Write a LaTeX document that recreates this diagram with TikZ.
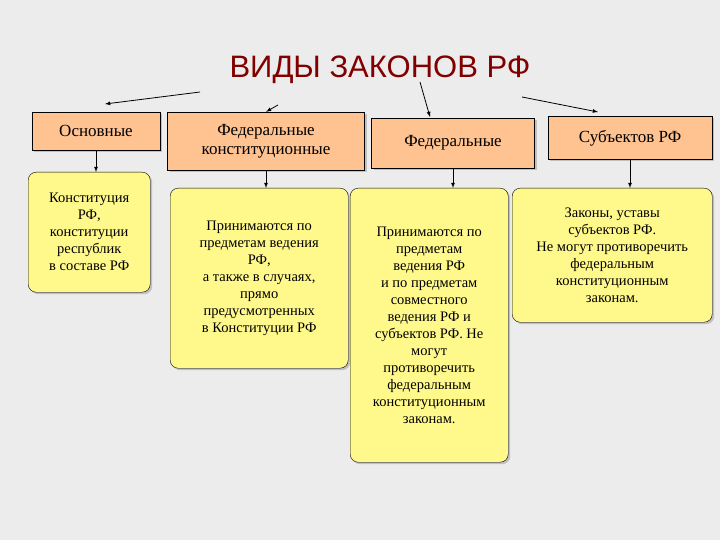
\documentclass[tikz,border=0pt]{standalone}
\usepackage{fontspec}
\setmainfont{Liberation Serif}
\newfontfamily\titlefont{Liberation Sans}
\usetikzlibrary{shadows}
\begin{document}
\begin{tikzpicture}[x=1pt,y=-1pt,
  hdr/.style={draw=black,fill=orange!40!white!95!red,inner sep=2pt,font=\fontsize{17}{19}\selectfont,align=center,drop shadow={opacity=0.4,shadow xshift=2pt,shadow yshift=-2pt}},
  body/.style={draw=black,fill=yellow!45,rounded corners=8pt,inner sep=2pt,font=\fontsize{14.5}{17}\selectfont,align=center,anchor=north west,drop shadow={opacity=0.4,shadow xshift=2pt,shadow yshift=-2pt}},
  arr/.style={-latex,thick}]
\fill[gray!15] (0,0) rectangle (720,540);
\useasboundingbox (0,0) rectangle (720,540);
\node[font=\titlefont\fontsize{31}{33}\selectfont,text=red!50!black] (t) at (380,70) {ВИДЫ ЗАКОНОВ РФ};
\node[hdr,minimum width=128,minimum height=38] (h1) at (96,131) {Основные};
\node[hdr,minimum width=197,minimum height=58] (h2) at (266,141) {Федеральные\\конституционные};
\node[hdr,minimum width=163,minimum height=50] (h3) at (453,143) {Федеральные};
\node[hdr,minimum width=164,minimum height=43] (h4) at (630,138) {Субъектов РФ};
\node[body,minimum width=122,minimum height=120] (b1) at (28,172) {Конституция\\РФ,\\конституции\\республик\\в составе РФ};
\node[body,minimum width=178,minimum height=180] (b2) at (170,188) {Принимаются по\\предметам ведения\\РФ,\\а также в случаях,\\прямо\\предусмотренных\\в Конституции РФ};
\node[body,minimum width=158,minimum height=274] (b3) at (350,188) {Принимаются по\\предметам\\ведения РФ\\и по предметам\\совместного\\ведения РФ и\\субъектов РФ. Не\\могут\\противоречить\\федеральным\\конституционным\\законам.};
\node[body,minimum width=200,minimum height=134] (b4) at (512,188) {Законы, уставы\\субъектов РФ.\\Не могут противоречить\\федеральным\\конституционным\\законам.};
\coordinate (s1) at (200,92); \coordinate (s2) at (278,105);
\coordinate (s3) at (420,82); \coordinate (s4) at (522,97);
\coordinate (e1) at (105,104); \coordinate (e3) at (430,117);
\coordinate (e4) at (598,112);
\draw[arr] (s1) -- (e1);
\draw[arr] (s2) -- (h2.north);
\draw[arr] (s3) -- (e3);
\draw[arr] (s4) -- (e4);
\draw[arr] (h1.south) -- (b1.north -| h1.south);
\draw[arr] (h2.south) -- (b2.north -| h2.south);
\draw[arr] (h3.south) -- (b3.north -| h3.south);
\draw[arr] (h4.south) -- (b4.north -| h4.south);
\end{tikzpicture}
\end{document}
